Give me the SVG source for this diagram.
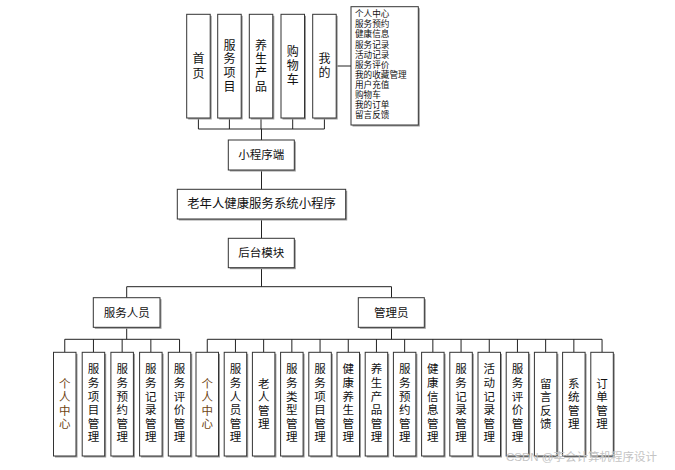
<svg xmlns="http://www.w3.org/2000/svg" width="675" height="470" viewBox="0 0 675 470">
<style>
.bx{fill:#fff;stroke:#333;stroke-width:1}
.sh{fill:#9a9a9a}
.t{font-family:"Liberation Sans","Noto Sans CJK SC",sans-serif;fill:#111;text-anchor:middle;dominant-baseline:central}
.v{font-size:12px}
.m{font-size:11.5px}
.l{font-family:"Liberation Sans","Noto Sans CJK SC",sans-serif;fill:#111;font-size:8.6px;dominant-baseline:central}
.b{font-size:11.5px}
.o{fill:#6e4412}
.c{stroke:#222;stroke-width:1;fill:none}
</style>
<rect width="675" height="470" fill="#fff"/>
<g id="connectors">
<path class="c" d="M198.4 118V129M229.4 118V129M261 118V129M292.7 118V129M324.4 118V129M198.4 129H324.4"/>
<path class="c" stroke-width="1.4" d="M261.5 129V140"/>
<path class="c" d="M336.2 66H351"/>
<path class="c" d="M261.5 170V189.3M261.5 219V238.3M261.5 267.7V286.7M126.7 286.7H391.5M126.7 286.7V297.7M391.5 286.7V297.7"/>
<path class="c" d="M126.7 327.3V339.3M64.75 339.3H179.55M64.75 339.3V352.3M93.45 339.3V352.3M122.15 339.3V352.3M150.85 339.3V352.3M179.55 339.3V352.3"/>
<path class="c" d="M391.5 327.3V339.3M207.25 339.3H602.05M207.25 339.3V352.3M235.45 339.3V352.3M263.65 339.3V352.3M291.85 339.3V352.3M320.05 339.3V352.3M348.25 339.3V352.3M376.45 339.3V352.3M404.65 339.3V352.3M432.85 339.3V352.3M461.05 339.3V352.3M489.25 339.3V352.3M517.45 339.3V352.3M545.65 339.3V352.3M573.85 339.3V352.3M602.05 339.3V352.3"/>
</g>
<g id="n-home"><rect class="sh" x="188.2" y="15.8" width="23.5" height="103.7"/><rect class="bx" x="186.7" y="14.3" width="23.5" height="103.7"/><text class="t v"><tspan x="198.4" y="58.5">首</tspan><tspan x="198.4" y="73.5">页</tspan></text></g>
<g id="n-items"><rect class="sh" x="219.2" y="15.8" width="23.5" height="103.7"/><rect class="bx" x="217.7" y="14.3" width="23.5" height="103.7"/><text class="t v"><tspan x="229.4" y="45.5">服</tspan><tspan x="229.4" y="59.2">务</tspan><tspan x="229.4" y="72.9">项</tspan><tspan x="229.4" y="86.6">目</tspan></text></g>
<g id="n-products"><rect class="sh" x="250.8" y="15.8" width="23.5" height="103.7"/><rect class="bx" x="249.3" y="14.3" width="23.5" height="103.7"/><text class="t v"><tspan x="261" y="45.5">养</tspan><tspan x="261" y="59.2">生</tspan><tspan x="261" y="72.9">产</tspan><tspan x="261" y="86.6">品</tspan></text></g>
<g id="n-cart"><rect class="sh" x="282.5" y="15.8" width="23.5" height="103.7"/><rect class="bx" x="281" y="14.3" width="23.5" height="103.7"/><text class="t v"><tspan x="292.7" y="52.3">购</tspan><tspan x="292.7" y="66">物</tspan><tspan x="292.7" y="79.7">车</tspan></text></g>
<g id="n-mine"><rect class="sh" x="314.2" y="15.8" width="23.5" height="103.7"/><rect class="bx" x="312.7" y="14.3" width="23.5" height="103.7"/><text class="t v"><tspan x="324.4" y="59">我</tspan><tspan x="324.4" y="72.7">的</tspan></text></g>
<g id="n-minelist"><rect class="sh" x="352.5" y="8.2" width="67.3" height="118.3"/><rect class="bx" x="351" y="6.7" width="67.3" height="118.3"/>
<text class="l"><tspan x="355" y="14.3">个人中心</tspan><tspan x="355" y="24.4">服务预约</tspan><tspan x="355" y="34.4">健康信息</tspan><tspan x="355" y="44.5">服务记录</tspan><tspan x="355" y="54.6">活动记录</tspan><tspan x="355" y="64.7">服务评价</tspan><tspan x="355" y="74.7">我的收藏管理</tspan><tspan x="355" y="84.8">用户充值</tspan><tspan x="355" y="94.9">购物车</tspan><tspan x="355" y="104.9">我的订单</tspan><tspan x="355" y="115">留言反馈</tspan></text></g>
<g id="n-miniapp"><rect class="sh" x="229.8" y="141.5" width="66" height="30"/><rect class="bx" x="228.3" y="140" width="66" height="30"/><text class="t m" x="261.3" y="155">小程序端</text></g>
<g id="n-title"><rect class="sh" x="178.8" y="190.8" width="168.4" height="29.7"/><rect class="bx" x="177.3" y="189.3" width="168.4" height="29.7"/><text class="t" font-size="12.4" x="261.5" y="204">老年人健康服务系统小程序</text></g>
<g id="n-backend"><rect class="sh" x="229.8" y="239.8" width="66" height="29.4"/><rect class="bx" x="228.3" y="238.3" width="66" height="29.4"/><text class="t m" x="261.3" y="253">后台模块</text></g>
<g id="n-staff"><rect class="sh" x="94.8" y="299.2" width="66.7" height="29.6"/><rect class="bx" x="93.3" y="297.7" width="66.7" height="29.6"/><text class="t m" x="126.7" y="312.5">服务人员</text></g>
<g id="n-admin"><rect class="sh" x="359.8" y="299.2" width="66" height="29.6"/><rect class="bx" x="358.3" y="297.7" width="66" height="29.6"/><text class="t m" x="391.3" y="312.5">管理员</text></g>
<g id="n-s1"><rect class="sh" x="55" y="353.8" width="22.5" height="103.7"/><rect class="bx" x="53.5" y="352.3" width="22.5" height="103.7"/><text class="t b o"><tspan x="64.75" y="383.6">个</tspan><tspan x="64.75" y="397.2">人</tspan><tspan x="64.75" y="410.8">中</tspan><tspan x="64.75" y="424.4">心</tspan></text></g>
<g id="n-s2"><rect class="sh" x="83.7" y="353.8" width="22.5" height="103.7"/><rect class="bx" x="82.2" y="352.3" width="22.5" height="103.7"/><text class="t b"><tspan x="93.45" y="369.3">服</tspan><tspan x="93.45" y="382.9">务</tspan><tspan x="93.45" y="396.5">项</tspan><tspan x="93.45" y="410.1">目</tspan><tspan x="93.45" y="423.7">管</tspan><tspan x="93.45" y="437.3">理</tspan></text></g>
<g id="n-s3"><rect class="sh" x="112.4" y="353.8" width="22.5" height="103.7"/><rect class="bx" x="110.9" y="352.3" width="22.5" height="103.7"/><text class="t b"><tspan x="122.15" y="369.3">服</tspan><tspan x="122.15" y="382.9">务</tspan><tspan x="122.15" y="396.5">预</tspan><tspan x="122.15" y="410.1">约</tspan><tspan x="122.15" y="423.7">管</tspan><tspan x="122.15" y="437.3">理</tspan></text></g>
<g id="n-s4"><rect class="sh" x="141.1" y="353.8" width="22.5" height="103.7"/><rect class="bx" x="139.6" y="352.3" width="22.5" height="103.7"/><text class="t b"><tspan x="150.85" y="369.3">服</tspan><tspan x="150.85" y="382.9">务</tspan><tspan x="150.85" y="396.5">记</tspan><tspan x="150.85" y="410.1">录</tspan><tspan x="150.85" y="423.7">管</tspan><tspan x="150.85" y="437.3">理</tspan></text></g>
<g id="n-s5"><rect class="sh" x="169.8" y="353.8" width="22.5" height="103.7"/><rect class="bx" x="168.3" y="352.3" width="22.5" height="103.7"/><text class="t b"><tspan x="179.55" y="369.3">服</tspan><tspan x="179.55" y="382.9">务</tspan><tspan x="179.55" y="396.5">评</tspan><tspan x="179.55" y="410.1">价</tspan><tspan x="179.55" y="423.7">管</tspan><tspan x="179.55" y="437.3">理</tspan></text></g>
<g id="n-a1"><rect class="sh" x="197.5" y="353.8" width="22.5" height="103.7"/><rect class="bx" x="196" y="352.3" width="22.5" height="103.7"/><text class="t b o"><tspan x="207.25" y="383.6">个</tspan><tspan x="207.25" y="397.2">人</tspan><tspan x="207.25" y="410.8">中</tspan><tspan x="207.25" y="424.4">心</tspan></text></g>
<g id="n-a2"><rect class="sh" x="225.7" y="353.8" width="22.5" height="103.7"/><rect class="bx" x="224.2" y="352.3" width="22.5" height="103.7"/><text class="t b"><tspan x="235.45" y="369.3">服</tspan><tspan x="235.45" y="382.9">务</tspan><tspan x="235.45" y="396.5">人</tspan><tspan x="235.45" y="410.1">员</tspan><tspan x="235.45" y="423.7">管</tspan><tspan x="235.45" y="437.3">理</tspan></text></g>
<g id="n-a3"><rect class="sh" x="253.9" y="353.8" width="22.5" height="103.7"/><rect class="bx" x="252.4" y="352.3" width="22.5" height="103.7"/><text class="t b"><tspan x="263.65" y="383.6">老</tspan><tspan x="263.65" y="397.2">人</tspan><tspan x="263.65" y="410.8">管</tspan><tspan x="263.65" y="424.4">理</tspan></text></g>
<g id="n-a4"><rect class="sh" x="282.1" y="353.8" width="22.5" height="103.7"/><rect class="bx" x="280.6" y="352.3" width="22.5" height="103.7"/><text class="t b"><tspan x="291.85" y="369.3">服</tspan><tspan x="291.85" y="382.9">务</tspan><tspan x="291.85" y="396.5">类</tspan><tspan x="291.85" y="410.1">型</tspan><tspan x="291.85" y="423.7">管</tspan><tspan x="291.85" y="437.3">理</tspan></text></g>
<g id="n-a5"><rect class="sh" x="310.3" y="353.8" width="22.5" height="103.7"/><rect class="bx" x="308.8" y="352.3" width="22.5" height="103.7"/><text class="t b"><tspan x="320.05" y="369.3">服</tspan><tspan x="320.05" y="382.9">务</tspan><tspan x="320.05" y="396.5">项</tspan><tspan x="320.05" y="410.1">目</tspan><tspan x="320.05" y="423.7">管</tspan><tspan x="320.05" y="437.3">理</tspan></text></g>
<g id="n-a6"><rect class="sh" x="338.5" y="353.8" width="22.5" height="103.7"/><rect class="bx" x="337" y="352.3" width="22.5" height="103.7"/><text class="t b"><tspan x="348.25" y="369.3">健</tspan><tspan x="348.25" y="382.9">康</tspan><tspan x="348.25" y="396.5">养</tspan><tspan x="348.25" y="410.1">生</tspan><tspan x="348.25" y="423.7">管</tspan><tspan x="348.25" y="437.3">理</tspan></text></g>
<g id="n-a7"><rect class="sh" x="366.7" y="353.8" width="22.5" height="103.7"/><rect class="bx" x="365.2" y="352.3" width="22.5" height="103.7"/><text class="t b"><tspan x="376.45" y="369.3">养</tspan><tspan x="376.45" y="382.9">生</tspan><tspan x="376.45" y="396.5">产</tspan><tspan x="376.45" y="410.1">品</tspan><tspan x="376.45" y="423.7">管</tspan><tspan x="376.45" y="437.3">理</tspan></text></g>
<g id="n-a8"><rect class="sh" x="394.9" y="353.8" width="22.5" height="103.7"/><rect class="bx" x="393.4" y="352.3" width="22.5" height="103.7"/><text class="t b"><tspan x="404.65" y="369.3">服</tspan><tspan x="404.65" y="382.9">务</tspan><tspan x="404.65" y="396.5">预</tspan><tspan x="404.65" y="410.1">约</tspan><tspan x="404.65" y="423.7">管</tspan><tspan x="404.65" y="437.3">理</tspan></text></g>
<g id="n-a9"><rect class="sh" x="423.1" y="353.8" width="22.5" height="103.7"/><rect class="bx" x="421.6" y="352.3" width="22.5" height="103.7"/><text class="t b"><tspan x="432.85" y="369.3">健</tspan><tspan x="432.85" y="382.9">康</tspan><tspan x="432.85" y="396.5">信</tspan><tspan x="432.85" y="410.1">息</tspan><tspan x="432.85" y="423.7">管</tspan><tspan x="432.85" y="437.3">理</tspan></text></g>
<g id="n-a10"><rect class="sh" x="451.3" y="353.8" width="22.5" height="103.7"/><rect class="bx" x="449.8" y="352.3" width="22.5" height="103.7"/><text class="t b"><tspan x="461.05" y="369.3">服</tspan><tspan x="461.05" y="382.9">务</tspan><tspan x="461.05" y="396.5">记</tspan><tspan x="461.05" y="410.1">录</tspan><tspan x="461.05" y="423.7">管</tspan><tspan x="461.05" y="437.3">理</tspan></text></g>
<g id="n-a11"><rect class="sh" x="479.5" y="353.8" width="22.5" height="103.7"/><rect class="bx" x="478" y="352.3" width="22.5" height="103.7"/><text class="t b"><tspan x="489.25" y="369.3">活</tspan><tspan x="489.25" y="382.9">动</tspan><tspan x="489.25" y="396.5">记</tspan><tspan x="489.25" y="410.1">录</tspan><tspan x="489.25" y="423.7">管</tspan><tspan x="489.25" y="437.3">理</tspan></text></g>
<g id="n-a12"><rect class="sh" x="507.7" y="353.8" width="22.5" height="103.7"/><rect class="bx" x="506.2" y="352.3" width="22.5" height="103.7"/><text class="t b"><tspan x="517.45" y="369.3">服</tspan><tspan x="517.45" y="382.9">务</tspan><tspan x="517.45" y="396.5">评</tspan><tspan x="517.45" y="410.1">价</tspan><tspan x="517.45" y="423.7">管</tspan><tspan x="517.45" y="437.3">理</tspan></text></g>
<g id="n-a13"><rect class="sh" x="535.9" y="353.8" width="22.5" height="103.7"/><rect class="bx" x="534.4" y="352.3" width="22.5" height="103.7"/><text class="t b"><tspan x="545.65" y="383.6">留</tspan><tspan x="545.65" y="397.2">言</tspan><tspan x="545.65" y="410.8">反</tspan><tspan x="545.65" y="424.4">馈</tspan></text></g>
<g id="n-a14"><rect class="sh" x="564.1" y="353.8" width="22.5" height="103.7"/><rect class="bx" x="562.6" y="352.3" width="22.5" height="103.7"/><text class="t b"><tspan x="573.85" y="383.6">系</tspan><tspan x="573.85" y="397.2">统</tspan><tspan x="573.85" y="410.8">管</tspan><tspan x="573.85" y="424.4">理</tspan></text></g>
<g id="n-a15"><rect class="sh" x="592.3" y="353.8" width="22.5" height="103.7"/><rect class="bx" x="590.8" y="352.3" width="22.5" height="103.7"/><text class="t b"><tspan x="602.05" y="383.6">订</tspan><tspan x="602.05" y="397.2">单</tspan><tspan x="602.05" y="410.8">管</tspan><tspan x="602.05" y="424.4">理</tspan></text></g>
<text x="506" y="457" font-family="'Liberation Sans','Noto Sans CJK SC',sans-serif" font-size="11.5" fill="#c4c4c4" dominant-baseline="central">CSDN @李会计算机程序设计</text>
</svg>
